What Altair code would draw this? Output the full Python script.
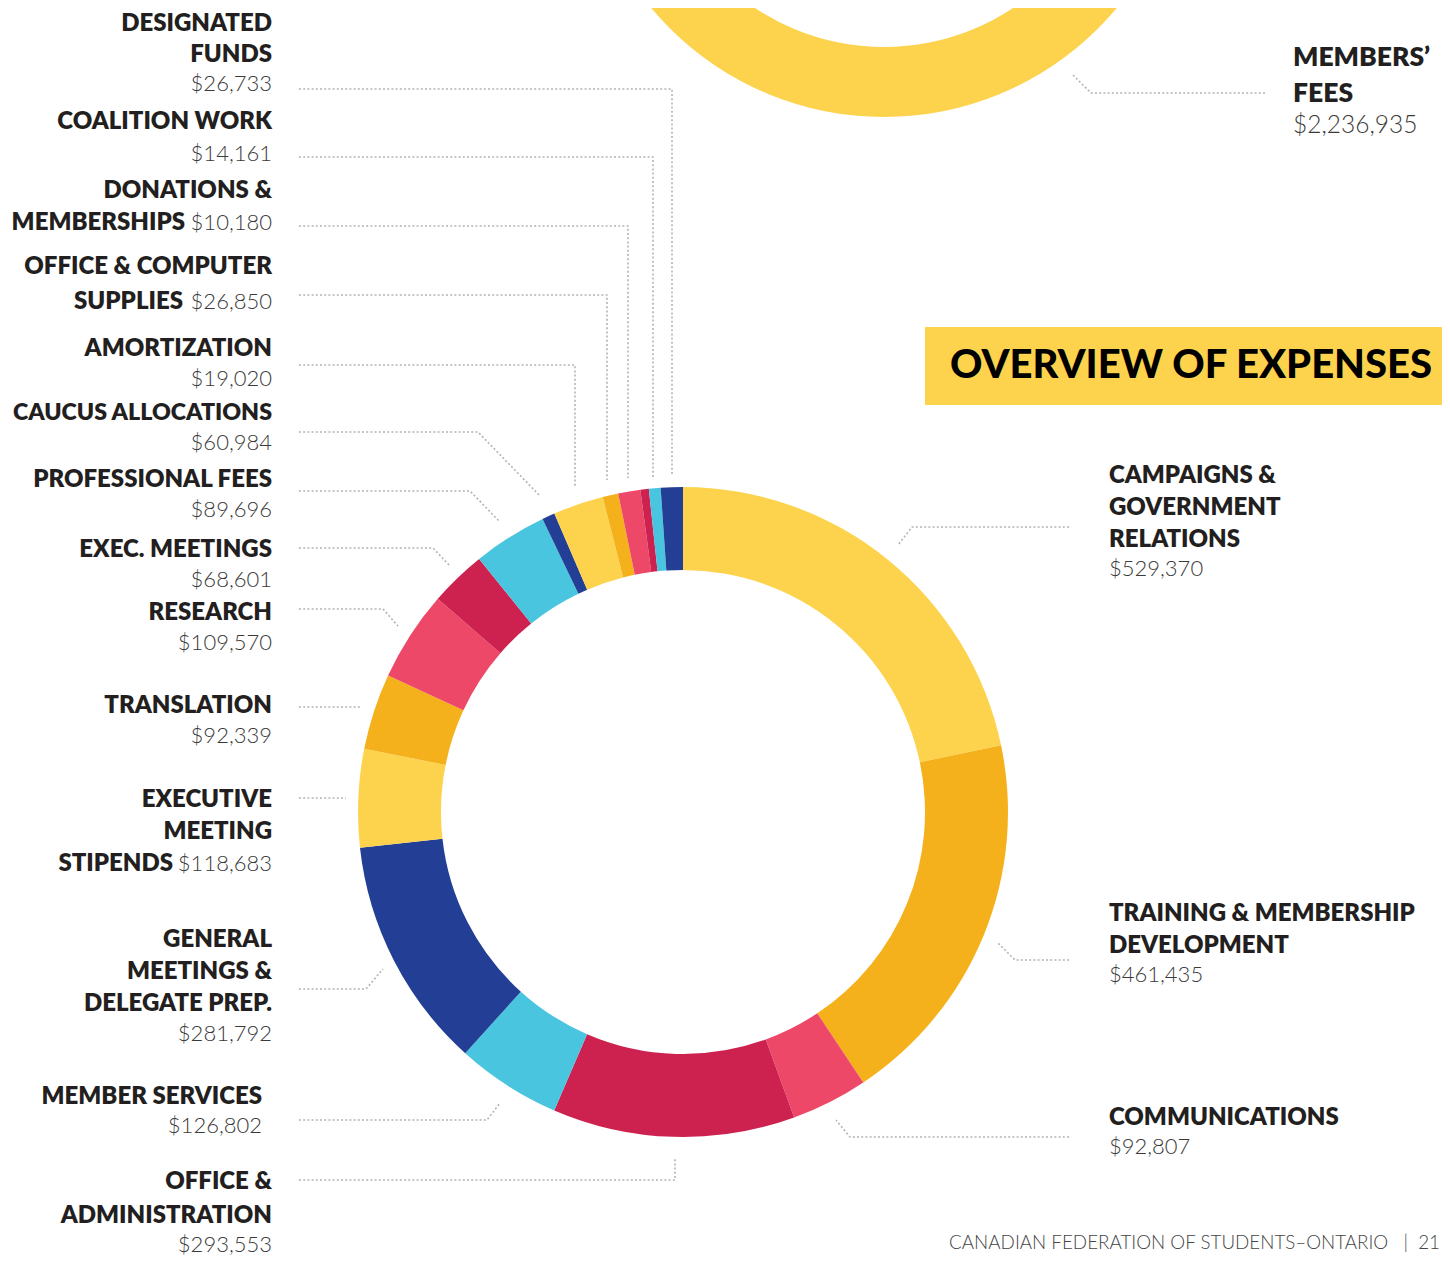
import math
import altair as alt
import pandas as pd

# ---------------- data ----------------
categories = [
    "Campaigns & Government Relations", "Training & Membership Development",
    "Communications", "Office & Administration", "Member Services",
    "General Meetings & Delegate Prep.", "Executive Meeting Stipends",
    "Translation", "Research", "Exec. Meetings", "Professional Fees",
    "(unlabelled)", "Caucus Allocations", "Amortization",
    "Office & Computer Supplies", "Donations & Memberships",
    "Coalition Work", "Designated Funds",
]
amounts = [529370, 461435, 92807, 293553, 126802, 281792, 118683, 92339,
           109570, 68601, 89696, 15500, 60984, 19020, 26850, 10180, 14161,
           26733]

revenue_categories = ["Members' Fees"]
revenue_amounts = [2236935]

palette = ["#FDD34D", "#F5B11B", "#EE4868", "#CD2250", "#49C5E0", "#233F95"]

# ---------------- layout (page pixel coordinates) ----------------
W, H = 1434, 1250
X0, Y0 = 8, 8
DONUT_C = (683, 812)
DONUT_R = (325, 242)
RING_C = (884, -186)
RING_R = (303, 233)

INK = "#231F20"
VAL = "#3A3A3A"
FONT = "Lato"
BOLD_SIZE, BOLD_W = 24, 800
VAL_SIZE, VAL_W = 22, 300


def money(v):
    return f"${v:,}"


# label layout: (category index, [(text, x, y, font size)], value (x, y))
left_layout = [
    (17, [("DESIGNATED", 272, 24, 24), ("FUNDS", 272, 55, 24)], (272, 84)),
    (16, [("COALITION WORK", 272, 122, 24)], (272, 154)),
    (15, [("DONATIONS &", 272, 191, 24), ("MEMBERSHIPS", 185, 223, 24)], (272, 223)),
    (14, [("OFFICE & COMPUTER", 272, 267, 24), ("SUPPLIES", 183, 302, 24)], (272, 302)),
    (13, [("AMORTIZATION", 272, 349, 24)], (272, 379)),
    (12, [("CAUCUS ALLOCATIONS", 272, 413, 23.2)], (272, 443)),
    (10, [("PROFESSIONAL FEES", 272, 480, 24)], (272, 510)),
    (9, [("EXEC. MEETINGS", 272, 550, 24)], (272, 580)),
    (8, [("RESEARCH", 272, 613, 24)], (272, 643)),
    (7, [("TRANSLATION", 272, 706, 24)], (272, 736)),
    (6, [("EXECUTIVE", 272, 800, 24), ("MEETING", 272, 832, 24), ("STIPENDS", 173, 864, 24)], (272, 864)),
    (5, [("GENERAL", 272, 940, 24), ("MEETINGS &", 272, 972, 24), ("DELEGATE PREP.", 272, 1004, 24)], (272, 1034)),
    (4, [("MEMBER SERVICES", 262, 1097, 24)], (262, 1126)),
    (3, [("OFFICE &", 272, 1182, 24), ("ADMINISTRATION", 272, 1216, 24)], (272, 1245)),
]
right_layout = [
    (0, [("CAMPAIGNS &", 1109, 476, 24), ("GOVERNMENT", 1109, 508, 24), ("RELATIONS", 1109, 540, 24)], (1109, 569)),
    (1, [("TRAINING & MEMBERSHIP", 1109, 914, 24), ("DEVELOPMENT", 1109, 946, 24)], (1109, 975)),
    (2, [("COMMUNICATIONS", 1109, 1118, 24)], (1109, 1147)),
]
members_layout = [("MEMBERS\u2019", 1293, 58, 26.5), ("FEES", 1293, 94, 26.5)]
members_value_pos = (1293, 126)

leaders = [
    [(299, 89), (672, 89), (672, 476)],
    [(299, 157), (653, 157), (653, 478)],
    [(299, 226), (628, 226), (628, 478)],
    [(299, 295), (607, 295), (607, 480)],
    [(299, 365), (575, 365), (575, 486)],
    [(299, 432), (478, 432), (540, 496)],
    [(299, 491), (470, 491), (500, 522)],
    [(299, 548), (433, 548), (450, 566)],
    [(299, 609), (383, 609), (398, 626)],
    [(299, 707), (361, 707)],
    [(299, 798), (346, 798)],
    [(299, 989), (366, 989), (383, 969)],
    [(299, 1120), (487, 1120), (500, 1103)],
    [(299, 1180), (675, 1180), (675, 1158)],
    [(1069, 527), (912, 527), (898, 545)],
    [(1069, 960), (1015, 960), (997, 942)],
    [(1069, 1137), (850, 1137), (836, 1120)],
    [(1265, 93), (1091, 93), (1072, 74)],
]

title_box = dict(x=925, x2=1470, y=327, y2=405)
title_pos = (950, 366)
footer_pos = (1440, 1243)

# ---------------- scales ----------------
xs = alt.Scale(domain=[X0, X0 + W], nice=False, zero=False)
ys = alt.Scale(domain=[Y0, Y0 + H], reverse=True, nice=False, zero=False)


def X(f="x"):
    return alt.X(f"{f}:Q", scale=xs, axis=None)


def Y(f="y"):
    return alt.Y(f"{f}:Q", scale=ys, axis=None)


# ---------------- donut slices ----------------
total = sum(amounts)
rows, cum = [], 0
for i, (c, a) in enumerate(zip(categories, amounts)):
    t0 = 2 * math.pi * cum / total
    cum += a
    t1 = 2 * math.pi * cum / total
    rows.append(dict(cat=c, amount=a, t0=t0, t1=t1, grp=i % 6,
                     x=DONUT_C[0], y=DONUT_C[1]))
slices = pd.DataFrame(rows)

color_scale = alt.Scale(domain=list(range(6)), range=palette)

donut = alt.Chart(slices).mark_arc(
    outerRadius=DONUT_R[0], innerRadius=DONUT_R[1]
).encode(
    x=X(), y=Y(),
    theta=alt.Theta("t0:Q", scale=None, stack=None),
    theta2="t1:Q",
    color=alt.Color("grp:O", scale=color_scale, legend=None),
)

rtotal = sum(revenue_amounts)
rrows, cum = [], 0
for c, a in zip(revenue_categories, revenue_amounts):
    t0 = 2 * math.pi * cum / rtotal
    cum += a
    t1 = 2 * math.pi * cum / rtotal
    rrows.append(dict(cat=c, amount=a, t0=t0, t1=t1, x=RING_C[0], y=RING_C[1]))
ring = alt.Chart(pd.DataFrame(rrows)).mark_arc(
    outerRadius=RING_R[0], innerRadius=RING_R[1], color=palette[0]
).encode(
    x=X(), y=Y(),
    theta=alt.Theta("t0:Q", scale=None, stack=None),
    theta2="t1:Q",
)

# ---------------- leader lines ----------------
lrows = []
for li, path in enumerate(leaders):
    for k, (px, py) in enumerate(path):
        lrows.append(dict(id=li, k=k, x=px, y=py))
lines = alt.Chart(pd.DataFrame(lrows)).mark_line(
    color="#B3B3B3", strokeWidth=1.6, strokeDash=[2, 2.2], strokeCap="butt"
).encode(x=X(), y=Y(), detail="id:N", order="k:Q")

# ---------------- title box ----------------
box = alt.Chart(pd.DataFrame([title_box])).mark_rect(color=palette[0]).encode(
    x=X("x"), x2="x2:Q", y=Y("y"), y2="y2:Q"
)

# ---------------- text ----------------
bold_l, bold_r, val_l, val_r = [], [], [], []
for idx, lines_, (vx, vy) in left_layout:
    for t, tx, ty, fs in lines_:
        bold_l.append(dict(text=t, x=tx, y=ty, fs=fs))
    val_l.append(dict(text=money(amounts[idx]), x=vx, y=vy, fs=VAL_SIZE))
for idx, lines_, (vx, vy) in right_layout:
    for t, tx, ty, fs in lines_:
        bold_r.append(dict(text=t, x=tx, y=ty, fs=fs))
    val_r.append(dict(text=money(amounts[idx]), x=vx, y=vy, fs=VAL_SIZE))


def text_layer(recs, align, weight, color, baseline="middle"):
    return alt.Chart(pd.DataFrame(recs)).mark_text(
        align=align, baseline=baseline, font=FONT,
        fontWeight=weight, color=color
    ).encode(x=X(), y=Y(), text="text:N",
             size=alt.Size("fs:Q", scale=None, legend=None))


t_bold_l = text_layer(bold_l, "right", BOLD_W, INK)
t_bold_r = text_layer(bold_r, "left", BOLD_W, INK)
t_val_l = text_layer(val_l, "right", VAL_W, VAL)
t_val_r = text_layer(val_r, "left", VAL_W, VAL)

t_members = text_layer([dict(text=t, x=x, y=y, fs=fs) for t, x, y, fs in members_layout],
                       "left", BOLD_W, INK)
t_members_val = text_layer([dict(text=money(revenue_amounts[0]),
                                 x=members_value_pos[0], y=members_value_pos[1], fs=24.5)],
                           "left", VAL_W, VAL)

t_title = text_layer([dict(text="OVERVIEW OF EXPENSES", x=title_pos[0], y=title_pos[1], fs=40)],
                     "left", 900, "#000000")
NB = "\u00a0"
t_footer = text_layer([dict(text=f"CANADIAN FEDERATION OF STUDENTS\u2013ONTARIO{NB*3}|{NB*2}21",
                            x=footer_pos[0], y=footer_pos[1], fs=18.8)],
                      "right", 300, "#444444")

chart = alt.layer(
    ring, donut, lines, box,
    t_bold_l, t_bold_r, t_val_l, t_val_r, t_members, t_members_val,
    t_title, t_footer,
).properties(
    width=W, height=H, padding=0, autosize="none", background="white"
).configure_view(stroke=None)

chart.save("out.html", embed_options={"renderer": "svg", "actions": False})
